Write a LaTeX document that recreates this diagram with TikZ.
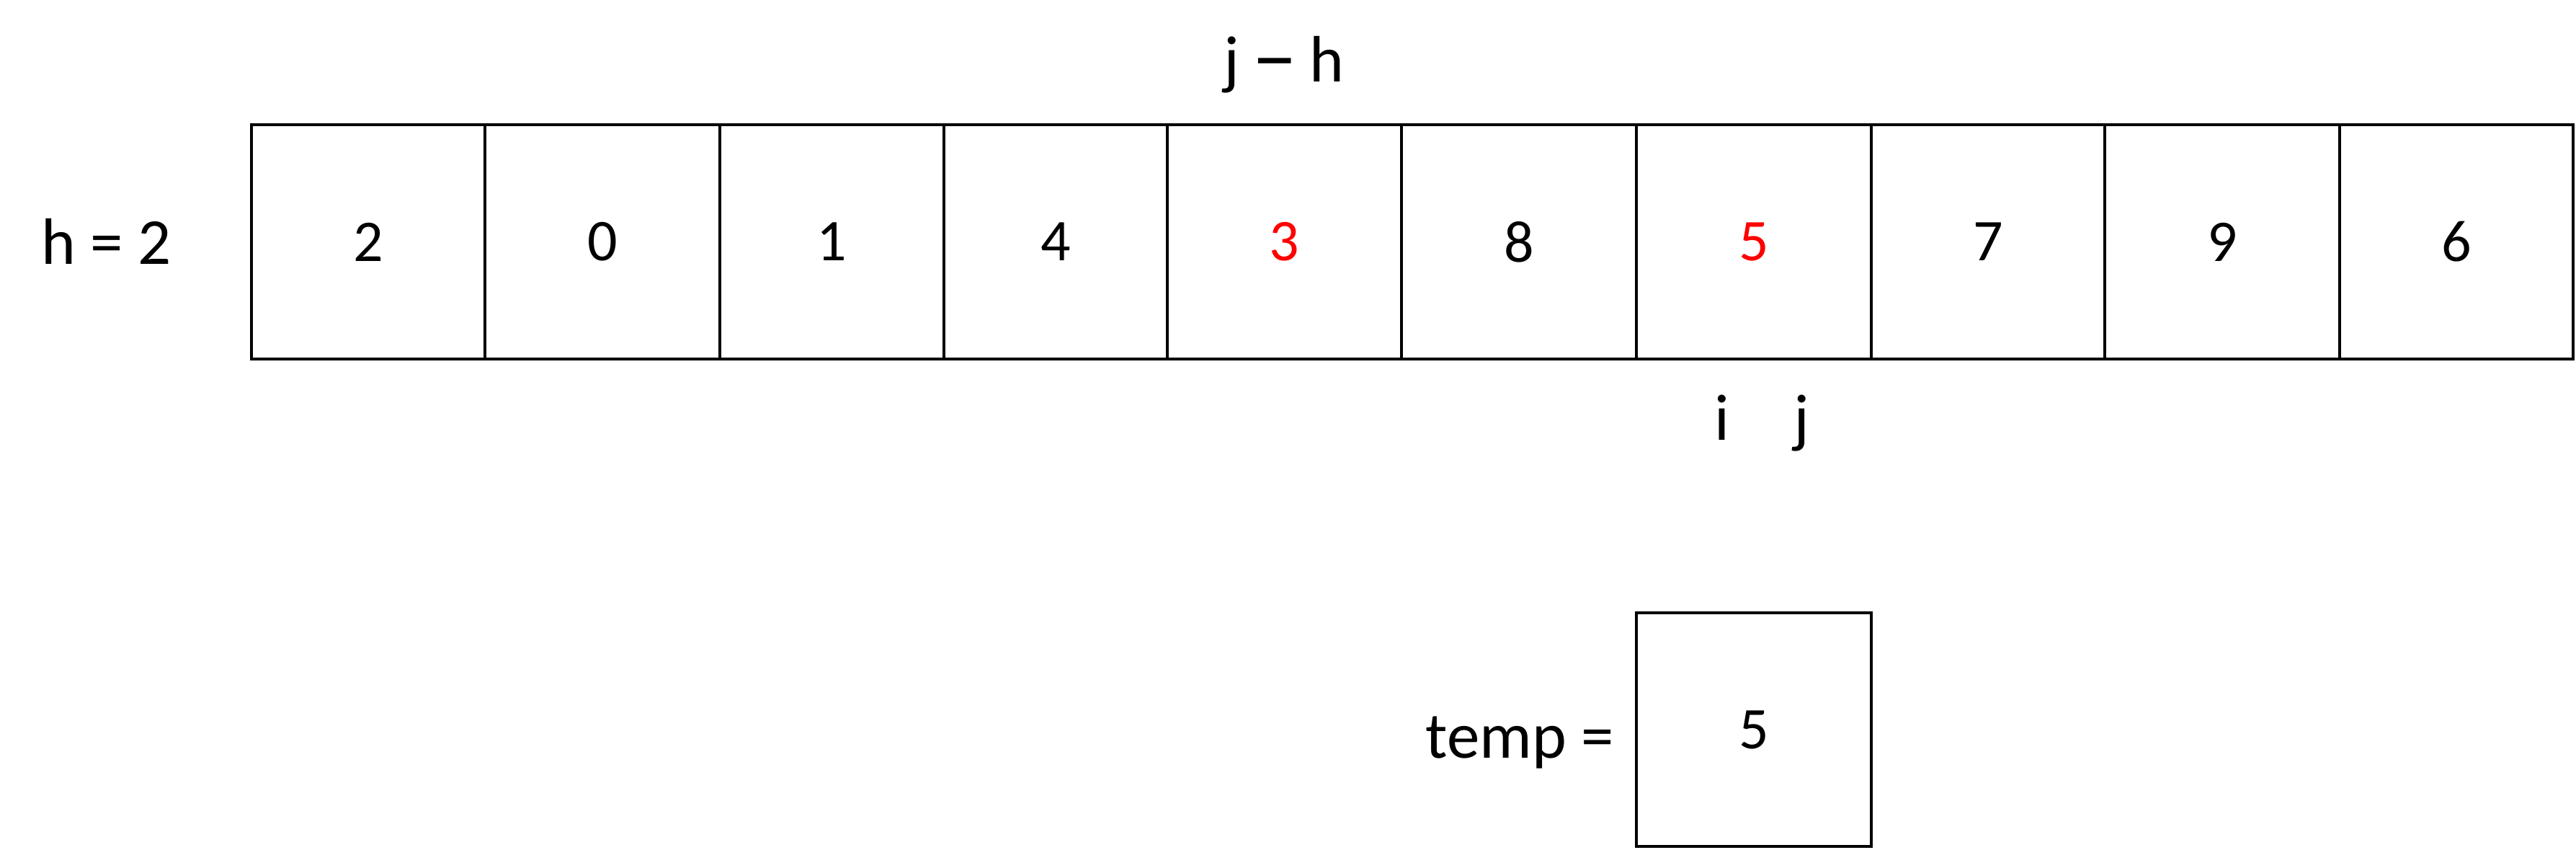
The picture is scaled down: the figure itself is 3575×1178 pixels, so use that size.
\documentclass[tikz,border=0pt]{standalone}
\usepackage{fontspec}
\usepackage{graphicx}
\setmainfont{Carlito}
\tikzset{
  cell/.style={draw=black, line width=4.5pt, inner sep=0pt, anchor=center,
    font=\fontsize{82}{98}\selectfont},
  lbl/.style={inner sep=0pt, anchor=base, font=\fontsize{91}{109}\selectfont},
  hot/.style={text={rgb,255:red,255;green,0;blue,0}}
}
\begin{document}
\begin{tikzpicture}[x=1pt,y=-1pt]
\useasboundingbox (0,0) rectangle (3575,1178);
% array cells: boundaries 349,673,999,1310,1620,1945,2271,2597,2921,3247,3571 ; y 173..498
\foreach \n/\l/\r/\v/\s in {c1/349/673/2/,c2/673/999/0/,c3/999/1310/1/,c4/1310/1620/4/,
  c5/1620/1945/3/hot,c6/1945/2271/8/,c7/2271/2597/5/hot,c8/2597/2921/7/,c9/2921/3247/9/,c10/3247/3571/6/}{
  \pgfmathsetmacro{\w}{\r-\l}
  \pgfmathsetmacro{\cx}{(\l+\r)/2}
  \node[cell, \s, minimum width=\w pt, minimum height=325pt] (\n) at (\cx,335.5) {\v};
}
\node[lbl] (hlab) at (147.5,366) {h = 2};
\node[lbl] (jh) at (1782,113) {j\hspace{-4pt} \raisebox{-4pt}{\scalebox{1.4}[1.3]{–}} \hspace{-4pt}h};
\node[lbl] (ilab) at (2390,610) {i};
\node[lbl] (jlab) at (2500,610) {j};
\node[lbl] (templab) at (2109,1051) {temp =};
\node[cell, minimum width=326pt, minimum height=324pt] (temp) at (2434,1012) {5};
\end{tikzpicture}
\end{document}
